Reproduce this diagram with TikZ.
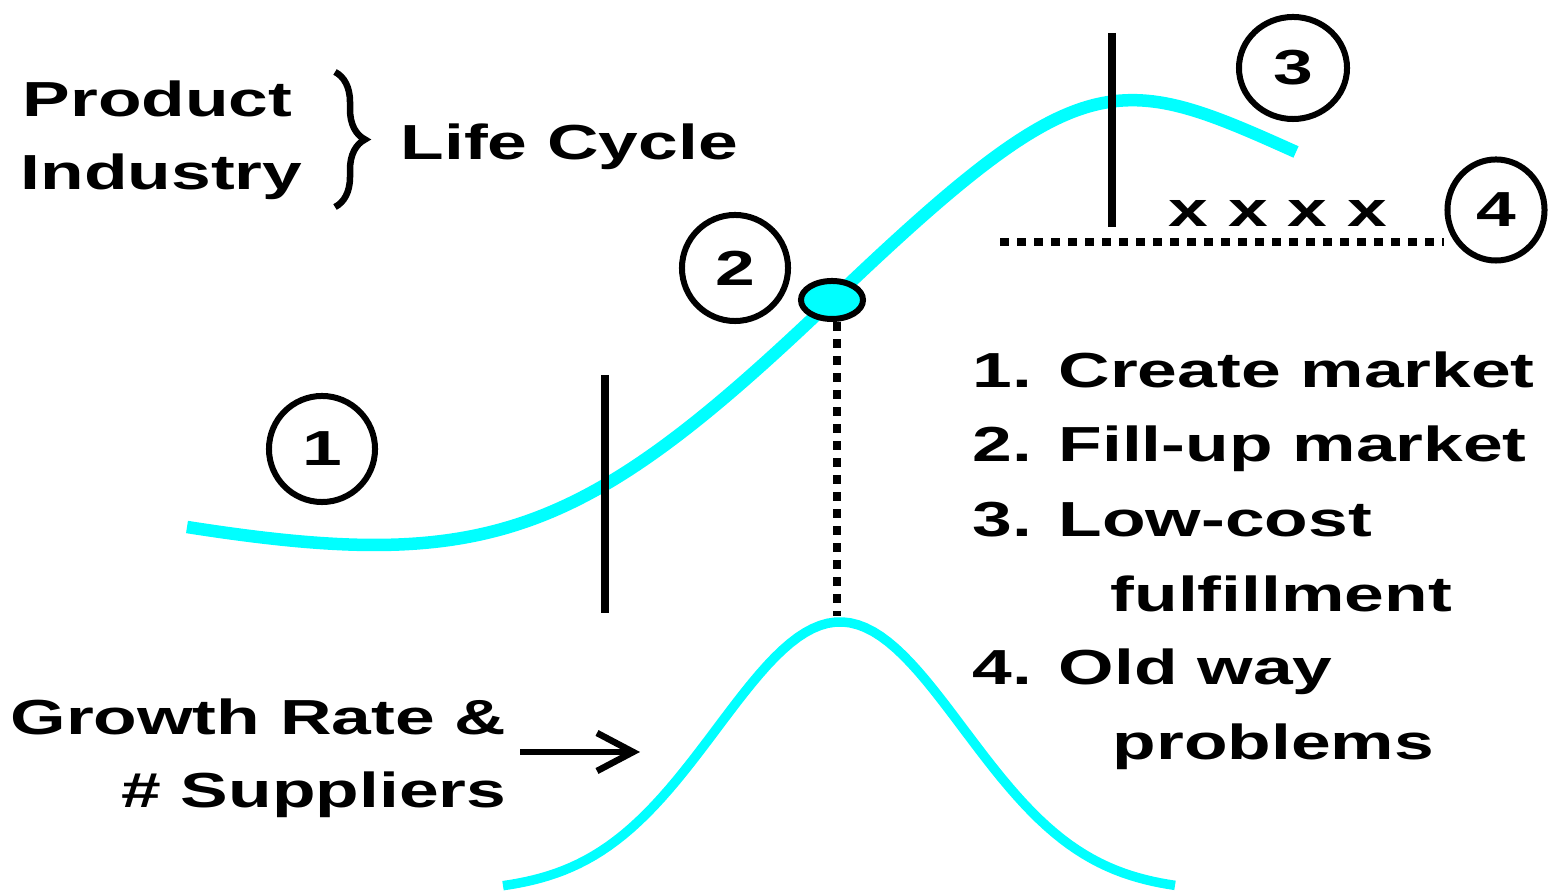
\documentclass[tikz,border=0pt]{standalone}
\usepackage{fontspec}
\newfontfamily\labelfont{Liberation Sans}[FakeStretch=1.45, Ligatures=NoCommon]
\usetikzlibrary{arrows.meta, decorations.pathreplacing, shapes.geometric}
\definecolor{curvecyan}{RGB}{0,255,255}

\begin{document}
\begin{tikzpicture}[x=0.01cm, y=-0.01cm,
  txt/.style={inner sep=0pt, anchor=base west,
    font=\labelfont\bfseries\fontsize{14pt}{16pt}\selectfont},
  stage/.style={draw, ellipse, line width=0.06cm, inner sep=0pt,
    font=\labelfont\bfseries\fontsize{14pt}{16pt}\selectfont},
  bar/.style={line width=0.075cm},
  dots/.style={line width=0.085cm, dash pattern=on 0.085cm off 0.085cm}]
  \useasboundingbox (0,0) rectangle (1548,895);

  % Title with brace
  \node[txt] (product) at (22,117) {Product};
  \node[txt] (industry) at (20,190) {Industry};
  \draw[decorate, decoration={brace, amplitude=0.3cm}, line width=0.065cm]
    (335,72) -- (335,207);
  \node[txt] (lifecycle) at (400,160) {Life Cycle};

  % Life cycle S-curve, inflection at the marked point
  \coordinate (bend) at (832,300);
  \draw[curvecyan, line width=0.125cm]
    (187,527) .. controls (487,574) and (582,539) .. (bend)
    .. controls (1082,61) and (1116,71) .. (1296,152);

  % Stage boundaries
  \draw[bar] (605,375) -- (605,613);
  \draw[bar] (1112,33) -- (1112,227);

  % Stages
  \node[stage, minimum width=1.06cm, minimum height=1.06cm] (s1) at (322,449) {1};
  \node[stage, minimum width=1.06cm, minimum height=1.06cm] (s2) at (735,268) {2};
  \node[stage, minimum width=1.08cm, minimum height=1.02cm] (s3) at (1293,68) {3};
  \node[stage, minimum width=0.97cm, minimum height=1.01cm] (s4) at (1496,210) {4};

  % Old way problems
  \node[txt] (marks) at (1168,227) {x x x x};
  \coordinate (oldfrom) at (1000,242);
  \draw[dots] (oldfrom) -- (oldfrom -| s4.west);

  % Growth rate curve
  \draw[curvecyan, line width=0.095cm] plot[domain=503:1175, samples=90]
    (\x, {892-270*exp(-((\x-840)/123)^2/2)});

  % Inflection point and its drop line
  \node[draw, ellipse, fill=curvecyan, line width=0.06cm, inner sep=0pt,
    minimum width=0.62cm, minimum height=0.38cm] (dot) at (bend) {};
  \coordinate (peak) at (837,616);
  \draw[dots] (dot.south -| peak) -- (peak);

  % Growth label and arrow
  \node[txt, anchor=base east] (growth) at (507,735) {Growth Rate \&};
  \node[txt, anchor=base east] (suppliers) at (507,808) {\# Suppliers};
  \coordinate (arrowfrom) at (520,752);
  \coordinate (arrowto) at (640,752);
  \draw[-{Straight Barb[length=0.36cm, width=0.38cm]}, line width=0.065cm]
    (arrowfrom) -- (arrowto);

  % Strategies
  \node[txt] (item1) at (972,388) {1. Create market};
  \node[txt] (item2) at (972,462) {2. Fill-up market};
  \node[txt] (item3) at (972,537) {3. Low-cost};
  \node[txt] (item3b) at (1110,612) {fulfillment};
  \node[txt] (item4) at (972,685) {4. Old way};
  \node[txt] (item4b) at (1112,760) {problems};
\end{tikzpicture}
\end{document}
